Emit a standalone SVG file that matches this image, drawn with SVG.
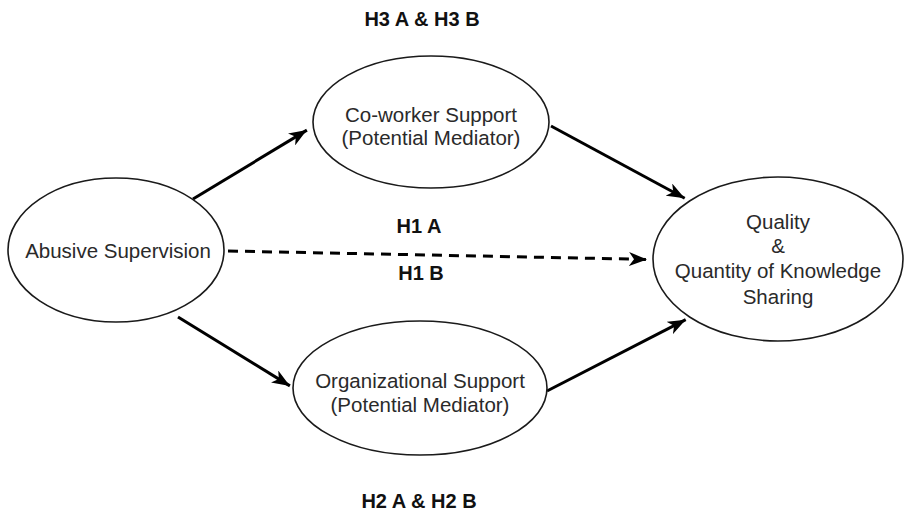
<svg xmlns="http://www.w3.org/2000/svg" width="905" height="513" viewBox="0 0 905 513">
  <style>
    .node ellipse { fill: #ffffff; stroke: #1a1a1a; stroke-width: 1.6; }
    .node text { font-family: "Liberation Sans", Arial, sans-serif; font-size: 20.5px; fill: #2a2a2a; text-anchor: middle; }
    .lbl { font-family: "Liberation Sans", Arial, sans-serif; font-size: 20px; font-weight: bold; fill: #111; text-anchor: middle; }
    .conn { stroke: #000; stroke-width: 3; fill: none; }
    .dash { stroke-dasharray: 10 7; }
  </style>
  <defs>
    <marker id="arrow" viewBox="0 0 18 14" refX="18" refY="7" markerWidth="18" markerHeight="14" markerUnits="userSpaceOnUse" orient="auto">
      <path d="M0,0 L18,7 L0,14 L5,7 z" fill="#000"/>
    </marker>
  </defs>
  <rect width="905" height="513" fill="#ffffff"/>

  <g id="connectors">
    <line class="conn" x1="193" y1="199" x2="306.9" y2="130.1" marker-end="url(#arrow)"/>
    <line class="conn" x1="551" y1="126" x2="684.7" y2="198.2" marker-end="url(#arrow)"/>
    <line class="conn dash" x1="228" y1="251" x2="647" y2="259.4" marker-end="url(#arrow)"/>
    <line class="conn" x1="178" y1="317" x2="289.9" y2="385.9" marker-end="url(#arrow)"/>
    <line class="conn" x1="547" y1="391" x2="685.7" y2="319.7" marker-end="url(#arrow)"/>
  </g>

  <g id="abusive-supervision" class="node">
    <ellipse cx="116" cy="250" rx="108" ry="72"/>
    <text x="118" y="258">Abusive Supervision</text>
  </g>

  <g id="coworker-support" class="node">
    <ellipse cx="431" cy="122" rx="118" ry="66"/>
    <text x="431" y="122">Co-worker Support</text>
    <text x="431" y="145">(Potential Mediator)</text>
  </g>

  <g id="organizational-support" class="node">
    <ellipse cx="420" cy="388" rx="127" ry="67"/>
    <text x="420" y="388">Organizational Support</text>
    <text x="420" y="412">(Potential Mediator)</text>
  </g>

  <g id="knowledge-sharing" class="node">
    <ellipse cx="778" cy="259" rx="125" ry="82"/>
    <text x="778" y="229">Quality</text>
    <text x="778" y="253">&amp;</text>
    <text x="778" y="278">Quantity of Knowledge</text>
    <text x="778" y="304">Sharing</text>
  </g>

  <g id="labels">
    <text class="lbl" x="422" y="26">H3 A &amp; H3 B</text>
    <text class="lbl" x="419" y="233">H1 A</text>
    <text class="lbl" x="421" y="280">H1 B</text>
    <text class="lbl" x="419" y="508">H2 A &amp; H2 B</text>
  </g>
</svg>
